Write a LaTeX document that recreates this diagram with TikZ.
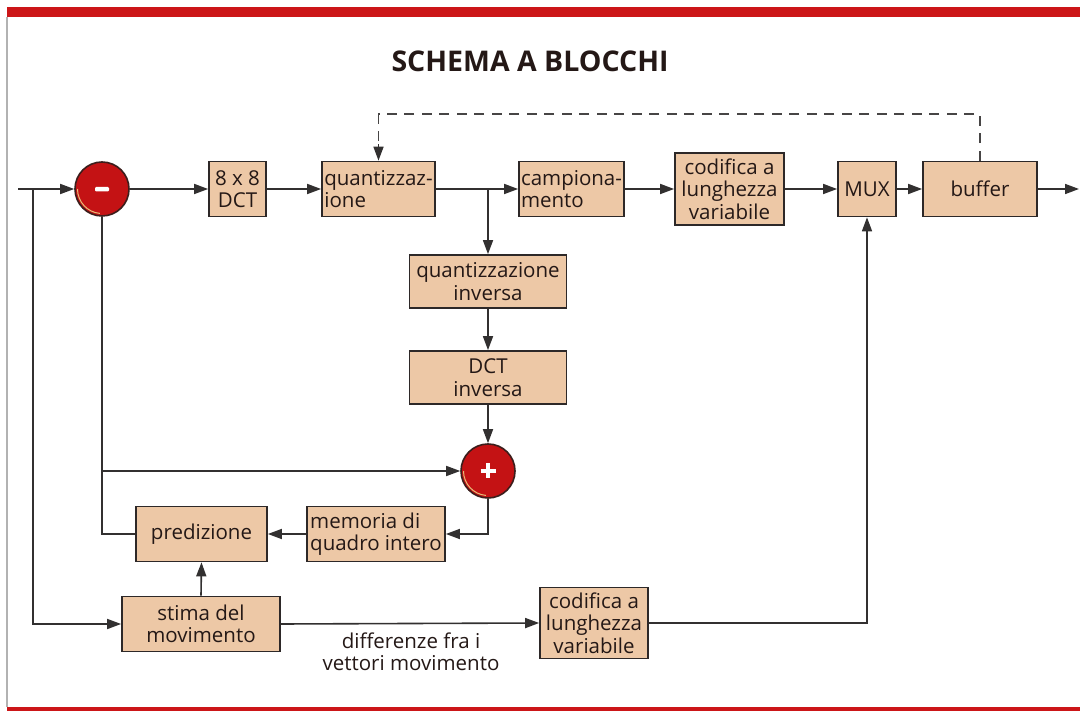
\documentclass[tikz,border=0pt]{standalone}
\usepackage{fontspec}
\setmainfont{Open Sans}
\usetikzlibrary{arrows.meta,calc}
\definecolor{barred}{RGB}{204,22,24}
\definecolor{boxfill}{RGB}{237,200,166}
\definecolor{boxline}{RGB}{45,40,40}
\definecolor{wire}{RGB}{50,48,48}
\definecolor{txt}{RGB}{36,24,22}
\definecolor{circred}{RGB}{196,18,20}
\definecolor{circline}{RGB}{60,30,28}
\definecolor{rimgold}{RGB}{230,190,120}
\begin{document}
\begin{tikzpicture}[x=1pt,y=-1pt,
  >={Triangle[length=14pt,width=10pt]},
  blk/.style={draw=boxline, fill=boxfill, line width=1.7pt, inner sep=0pt, text=txt,
    font=\fontsize{20.5}{22.5}\selectfont, align=center},
  lblk/.style={blk, align=left},
  sumnode/.style={circle, draw=circline, fill=circred, line width=1.6pt, minimum size=54pt, inner sep=0pt},
  wireline/.style={draw=wire, line width=1.6pt},
  dashline/.style={draw=wire!90, line width=1.6pt, dash pattern=on 10pt off 7.5pt},
  lbl/.style={text=txt, font=\fontsize{20.5}{21.5}\selectfont, align=center, inner sep=0pt},
  titlestyle/.style={text=txt, font=\fontsize{28.5}{30}\selectfont\bfseries, inner sep=0pt}
]
\useasboundingbox (0,0) rectangle (1080,711);
\fill[white] (0,0) rectangle (1080,711);
% frame
\fill[barred] (7,7) rectangle (1080,17);
\fill[barred] (7,707) rectangle (1080,711);
\draw[color=black!30, line width=1.5pt] (7,17) -- (7,707);

\node[titlestyle] (title) at (530,61) {SCHEMA A BLOCCHI};

% summing junctions
\node[sumnode] (minus) at (102,189) {};
\draw[rimgold, line width=1pt] ([shift={(-24.5,0)}]minus.center) arc[start angle=180, end angle=265, radius=24.5pt];
\fill[white, rounded corners=1.2pt] (95,187) rectangle (109,191.5);
\node[sumnode] (plus) at (488,471) {};
\draw[rimgold, line width=1pt] ([shift={(-24.5,0)}]plus.center) arc[start angle=180, end angle=265, radius=24.5pt];
\draw[white, line width=3.5pt] (480.5,471) -- (495.5,471) (488,463.5) -- (488,478.5);

% blocks
\node[blk, minimum width=57pt, minimum height=55pt] (dct) at (237.5,189) {8 x 8\\DCT};
\node[lblk, minimum width=113pt, minimum height=55pt] (quant) at (378.5,189) {quantizzaz-\\ione};
\node[lblk, minimum width=105pt, minimum height=55pt] (camp) at (571.5,189) {campiona-\\mento};
\node[blk, minimum width=109pt, minimum height=72pt] (cod1) at (729.5,189) {codifica a\\lunghezza\\variabile};
\node[blk, minimum width=58pt, minimum height=55pt] (mux) at (867,189) {MUX};
\node[blk, minimum width=114pt, minimum height=55pt] (buf) at (980,189) {buffer};
\node[blk, minimum width=157pt, minimum height=53pt] (qinv) at (488,281.5) {quantizzazione\\inversa};
\node[blk, minimum width=157pt, minimum height=53pt] (dctinv) at (488,377.5) {DCT\\inversa};
\node[blk, minimum width=131pt, minimum height=55pt] (pred) at (201.5,534) {predizione};
\node[lblk, minimum width=138pt, minimum height=55pt] (mem) at (376,534) {memoria di\\quadro intero};
\node[blk, minimum width=158pt, minimum height=55pt] (stima) at (201,624) {stima del\\movimento};
\node[blk, minimum width=108pt, minimum height=71pt] (cod2) at (594,623) {codifica a\\lunghezza\\variabile};

\node[lbl] (difflbl) at (411,652) {differenze fra i\\vettori movimento};

% coordinates
\coordinate (in) at (18,189);
\coordinate (split) at (33,189);
\coordinate (out) at (1079,189);
\coordinate (branch) at (qinv.north |- quant.east);
\coordinate (fb) at (minus.south |- plus.west);

% connectors
\draw[wireline, ->] (in) -- (minus.west);
\draw[wireline, ->] (split) |- (stima.west);
\draw[wireline, ->] (minus.east) -- (dct.west);
\draw[wireline, ->] (dct.east) -- (quant.west);
\draw[wireline, ->] (quant.east) -- (camp.west);
\draw[wireline, ->] (branch) -- (qinv.north);
\draw[wireline, ->] (camp.east) -- (cod1.west);
\draw[wireline, ->] (cod1.east) -- (mux.west);
\draw[wireline, ->] (mux.east) -- (buf.west);
\draw[wireline, ->] (buf.east) -- (out);
\draw[dashline] (buf.north) -- ++(0,-46.5) -| ($(quant.north)+(0,-16)$);
\draw[wireline, ->] ($(quant.north)+(0,-16.5)$) -- (quant.north);
\draw[wireline, ->] (qinv.south) -- (dctinv.north);
\draw[wireline, ->] (dctinv.south) -- (plus.north);
\draw[wireline] (pred.west) -| (minus.south);
\draw[wireline, ->] (fb) -- (plus.west);
\draw[wireline, ->] (plus.south) |- (mem.east);
\draw[wireline, ->] (mem.west) -- (pred.east);
\draw[wireline, ->] (stima.north) -- (pred.south);
\draw[wireline, ->] (stima.east) -- (cod2.west);
\draw[wireline, ->] (cod2.east) -| (mux.south);
\end{tikzpicture}
\end{document}
